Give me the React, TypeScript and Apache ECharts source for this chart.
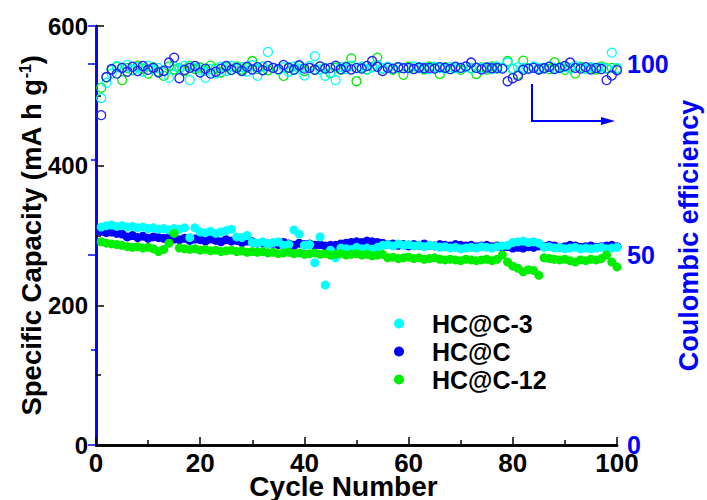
import React, { useEffect, useRef } from "react";
import * as echarts from "echarts";

const cycles: number[] = Array.from({ length: 100 }, (_, i) => i + 1);

const capHC3: number[] = [
  312, 314, 315, 313, 314, 312, 313, 311, 312, 310,
  311, 309, 310, 308, 310, 309, 311, 297, 311, 305,
  304, 306, 303, 305, 307, 309, 298, 297, 300, 290,
  289, 291, 288, 290, 291, 286, 287, 308, 302, 286,
  287, 261, 298, 229, 279, 268, 282, 281, 280, 283,
  281, 282, 280, 283, 286, 287, 285, 288, 286, 287,
  285, 286, 284, 286, 285, 283, 284, 282, 283, 281,
  282, 283, 282, 284, 283, 282, 284, 285, 286, 290,
  291, 292, 290, 291, 289, 283, 284, 282, 283, 281,
  282, 283, 281, 282, 281, 282, 283, 281, 282, 283,
];

const capHC: number[] = [
  306, 304, 305, 303, 302, 298, 300, 297, 299, 296,
  298, 297, 296, 297, 295, 294, 296, 293, 295, 294,
  292, 295, 293, 291, 294, 292, 293, 290, 292, 291,
  289, 290, 288, 289, 287, 290, 288, 286, 289, 287,
  288, 286, 287, 285, 286, 286, 288, 289, 290, 291,
  290, 292, 291, 290, 289, 287, 288, 286, 287, 285,
  287, 286, 288, 286, 285, 287, 286, 285, 287, 286,
  285, 286, 284, 285, 286, 284, 285, 283, 284, 282,
  283, 282, 284, 283, 285, 284, 286, 285, 283, 284,
  286, 285, 283, 284, 285, 283, 284, 285, 286, 284,
];

const capHC12: number[] = [
  291, 289, 288, 287, 286, 284, 283, 284, 282, 283,
  281, 277, 280, 289, 303, 282, 281, 280, 281, 279,
  280, 278, 279, 277, 278, 279, 277, 278, 276, 277,
  276, 277, 275, 276, 274, 275, 276, 274, 275, 273,
  274, 275, 273, 274, 272, 273, 274, 272, 273, 274,
  272, 273, 271, 272, 273, 268, 269, 267, 268, 269,
  267, 268, 266, 267, 268, 266, 265, 266, 265, 264,
  266, 265, 264, 265, 266, 264, 266, 272, 262, 256,
  253, 248, 251, 250, 243, 268, 267, 266, 265, 266,
  264, 262, 265, 264, 266, 265, 267, 272, 262, 255,
];

const ceHC3: number[] = [
  91.1, 95.1, 97.5, 99.5, 98.8, 99.8, 98.5, 99.2, 98.0, 99.6,
  98.7, 99.0, 98.3, 96.4, 99.4, 98.8, 99.6, 95.8, 99.0, 98.5,
  96.4, 98.7, 97.5, 99.3, 98.2, 99.5, 98.8, 99.2, 98.0, 99.7,
  96.9, 99.3, 103.2, 99.0, 98.5, 99.2, 98.0, 99.4, 98.8, 97.0,
  99.5, 102.1, 98.6, 96.9, 97.8, 95.8, 99.2, 98.7, 99.6, 98.9,
  99.3, 98.5, 99.1, 99.8, 98.9, 99.3, 98.7, 99.2, 99.0, 98.8,
  99.4, 98.9, 99.1, 98.7, 99.3, 99.0, 98.8, 99.2, 98.9, 99.0,
  99.3, 98.8, 99.1, 98.9, 99.2, 98.7, 99.4, 99.0, 100.4, 98.8,
  99.2, 99.0, 98.7, 99.3, 99.0, 98.8, 99.4, 99.0, 98.9, 99.2,
  98.8, 99.5, 99.0, 98.7, 99.2, 98.9, 99.1, 98.8, 103.0, 99.0,
];

const ceHC: number[] = [
  86.6, 96.6, 98.7, 97.5, 99.0, 98.0, 99.3, 98.2, 99.5, 98.5,
  99.0, 97.8, 98.2, 100.4, 101.7, 96.3, 98.5, 99.0, 99.5, 97.8,
  98.8, 97.5, 98.0, 98.8, 99.5, 98.5, 99.0, 98.2, 99.3, 98.6,
  99.2, 98.4, 99.5, 99.0, 98.7, 99.8, 99.0, 98.5, 99.7, 98.8,
  99.0, 98.5, 99.4, 98.8, 99.0, 99.6, 98.7, 99.2, 98.6, 99.0,
  98.8, 99.5, 100.8, 99.3, 98.2, 99.0, 98.8, 99.2, 98.9, 99.0,
  98.7, 99.1, 98.9, 99.0, 98.8, 99.2, 99.0, 98.7, 99.3, 99.0,
  99.4, 100.4, 99.0, 98.6, 99.1, 98.9, 99.0, 98.8, 95.5, 96.3,
  96.9, 98.5, 98.8, 99.0, 98.6, 98.9, 99.3, 98.7, 99.0, 99.5,
  100.4, 99.0, 98.8, 99.2, 98.6, 99.0, 98.7, 95.8, 97.0, 98.4,
];

const ceHC12: number[] = [
  93.8, 96.5, 98.5, 99.3, 95.8, 99.0, 98.4, 99.6, 98.8, 97.5,
  99.2, 98.0, 96.9, 99.4, 98.6, 99.0, 98.2, 99.5, 98.7, 99.1,
  98.3, 99.6, 98.8, 97.8, 99.2, 98.5, 99.4, 98.6, 99.0, 100.8,
  98.7, 99.3, 98.4, 99.0, 98.5, 96.9, 99.2, 98.7, 99.5, 98.2,
  99.0, 98.6, 99.4, 98.9, 97.6, 99.1, 98.5, 99.3, 101.5, 95.5,
  99.0, 98.6, 99.3, 101.7, 98.8, 99.2, 98.5, 99.0, 97.2, 99.3,
  98.8, 99.1, 98.6, 99.4, 98.9, 97.4, 99.2, 98.7, 99.0, 98.5,
  99.3, 98.9, 97.4, 99.1, 98.6, 99.4, 98.8, 99.0, 100.8, 98.7,
  97.2, 100.9, 98.8, 99.3, 98.6, 99.0, 98.7, 100.5, 99.2, 98.5,
  99.0, 97.5, 99.3, 98.8, 99.1, 98.6, 99.4, 98.9, 99.0, 98.8,
];

const seriesNames = ["HC@C-3", "HC@C", "HC@C-12"];
const colors = { c3: "#00FFFF", c: "#0000FF", c12: "#00EE00" };

const leftTicks = { min: 0, max: 600, interval: 200 };
const rightTicks = { min: 0, max: 110, interval: 50 };
const xTicks = { min: 0, max: 100, interval: 20 };

const FONT = "'Liberation Sans', Arial, sans-serif";

const pairs = (ys: number[]) => cycles.map((x, i) => [x, ys[i]]);

export default function App() {
  const ref = useRef<HTMLDivElement>(null);
  useEffect(() => {
    if (!ref.current) return;
    const chart = echarts.init(ref.current, undefined, { renderer: "svg" });
    const filled = (name: string, color: string, data: number[]) => ({
      name,
      type: "scatter",
      xAxisIndex: 0,
      yAxisIndex: 0,
      symbol: "circle",
      symbolSize: 9,
      itemStyle: { color, opacity: 1 },
      data: pairs(data),
    });
    const hollow = (name: string, color: string, data: number[]) => ({
      name,
      type: "scatter",
      xAxisIndex: 0,
      yAxisIndex: 1,
      symbol: "circle",
      symbolSize: 9,
      itemStyle: { color: "rgba(0,0,0,0)", borderColor: color, borderWidth: 1.3, opacity: 1 },
      data: pairs(data),
    });
    const arrowColor = "#0000FF";
    chart.setOption({
      animation: false,
      textStyle: { fontFamily: FONT },
      grid: { left: 96, right: 90, top: 26, bottom: 55, containLabel: false, outerBoundsMode: "none" },
      legend: {
        data: seriesNames,
        orient: "vertical",
        left: 389,
        top: 306,
        itemGap: 3,
        itemWidth: 56,
        itemHeight: 10,
        icon: "circle",
        textStyle: { fontFamily: FONT, fontWeight: "bold", fontSize: 25, color: "#000" },
      },
      xAxis: [
        {
          type: "value",
          ...xTicks,
          name: "Cycle Number",
          nameLocation: "middle",
          nameGap: 27,
          nameMoveOverlap: false,
          nameTextStyle: {
            fontFamily: FONT,
            fontWeight: "bold",
            fontSize: 28,
            lineHeight: 28,
            color: "#000",
            padding: [0, 26, 0, 0],
          },
          axisLine: { lineStyle: { color: "#000", width: 2.5 } },
          axisTick: { inside: true, length: 8, lineStyle: { color: "#000", width: 1.5 } },
          minorTick: { show: true, splitNumber: 2, length: 5, lineStyle: { color: "#000", width: 1.5 } },
          splitLine: { show: false },
          axisLabel: { fontFamily: FONT, fontWeight: "bold", fontSize: 26, lineHeight: 24, color: "#000", margin: 6 },
        },
        {
          type: "value",
          ...xTicks,
          position: "top",
          axisLine: { lineStyle: { color: "#000", width: 2.5 } },
          axisTick: { show: false },
          axisLabel: { show: false },
          splitLine: { show: false },
        },
      ],
      yAxis: [
        {
          type: "value",
          ...leftTicks,
          position: "left",
          name: "Specific Capacity (mA h g{sup|-1})",
          nameLocation: "middle",
          nameRotate: 90,
          nameGap: 51,
          nameMoveOverlap: false,
          nameTextStyle: {
            fontFamily: FONT,
            fontWeight: "bold",
            fontSize: 27.5,
            color: "#000",
            rich: {
              sup: { fontFamily: FONT, fontWeight: "bold", fontSize: 16, color: "#000", padding: [0, 0, 12, 0] },
            },
          },
          axisLine: { show: true, lineStyle: { color: "#000", width: 2.5 } },
          axisTick: { show: true, inside: true, length: 8, lineStyle: { color: "#000", width: 1.5 } },
          minorTick: { show: true, splitNumber: 2, length: 5, lineStyle: { color: "#000", width: 1.5 } },
          splitLine: { show: false },
          axisLabel: { fontFamily: FONT, fontWeight: "bold", fontSize: 24, color: "#000", margin: 8 },
        },
        {
          type: "value",
          ...rightTicks,
          position: "right",
          name: "Coulombic efficiency",
          nameLocation: "middle",
          nameRotate: 90,
          nameGap: 58,
          nameMoveOverlap: false,
          nameTextStyle: { fontFamily: FONT, fontWeight: "bold", fontSize: 27, color: "#0000FF" },
          axisLine: { show: true, lineStyle: { color: "#0000FF", width: 2.5 } },
          axisTick: { show: true, inside: true, length: 8, lineStyle: { color: "#0000FF", width: 1.5 } },
          minorTick: { show: true, splitNumber: 2, length: 5, lineStyle: { color: "#0000FF", width: 1.5 } },
          splitLine: { show: false },
          axisLabel: {
            fontFamily: FONT,
            fontWeight: "bold",
            fontSize: 25,
            color: "#0000FF",
            margin: 10,
            showMaxLabel: false,
          },
        },
      ],
      series: [
        filled(seriesNames[1], colors.c, capHC),
        filled(seriesNames[0], colors.c3, capHC3),
        filled(seriesNames[2], colors.c12, capHC12),
        hollow("CE " + seriesNames[2], colors.c12, ceHC12),
        hollow("CE " + seriesNames[0], colors.c3, ceHC3),
        hollow("CE " + seriesNames[1], "#2020FF", ceHC),
      ],
      graphic: [
        {
          type: "polyline",
          shape: { points: [[532, 84], [532, 121], [606, 121]] },
          style: { stroke: arrowColor, lineWidth: 2, fill: null },
          z: 100,
        },
        {
          type: "polygon",
          shape: { points: [[601, 117], [615, 121], [601, 125]] },
          style: { fill: arrowColor },
          z: 100,
        },
      ],
    });
    return () => chart.dispose();
  }, []);
  return (
    <div
      ref={ref}
      style={{ position: "fixed", left: 0, top: 0, width: 707, height: 500, background: "#fff" }}
    />
  );
}
